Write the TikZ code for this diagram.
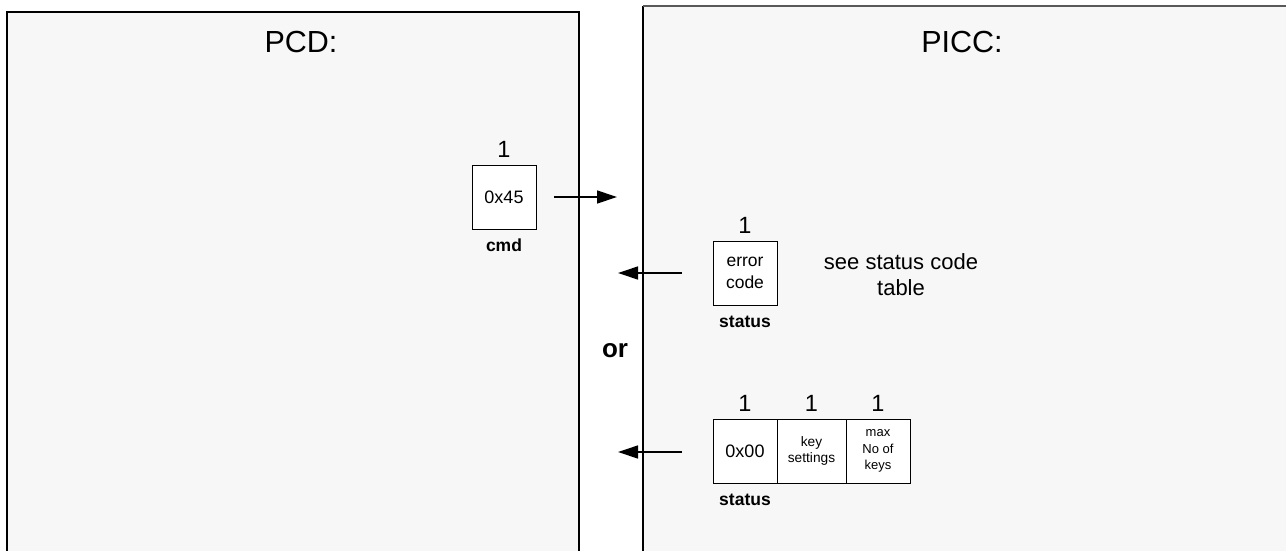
\documentclass[tikz,border=0pt]{standalone}
\usepackage{fontspec}
\setmainfont{Liberation Sans}
\usetikzlibrary{arrows.meta}
\begin{document}
\begin{tikzpicture}[x=1pt,y=-1pt,
  panel/.style={fill=black!3,draw=none},
  border/.style={line width=1.3pt,draw=black},
  cell/.style={draw=black,line width=0.8pt,fill=white,minimum height=64pt,inner sep=0pt,align=center},
  num/.style={font=\fontsize{23.5}{23.5}\selectfont,anchor=base,inner sep=0pt},
  lbl/.style={font=\fontsize{17.5}{17.5}\selectfont\bfseries,anchor=base,inner sep=0pt},
  msg/.style={-{Triangle[length=20pt,width=13pt]},line width=1.3pt},
  title/.style={font=\fontsize{30.5}{30.5}\selectfont,anchor=base,inner sep=0pt}]
\useasboundingbox (0,0) rectangle (1286,551);
\fill[white] (0,0) rectangle (1286,551);
% panels
\fill[panel] (7,12) rectangle (579,551);
\fill[panel] (643,6) rectangle (1286,551);
\draw[border] (7,551) -- (7,12) -- (579,12) -- (579,551);
\draw[border] (643,551) -- (643,6);
\draw[line width=1.6pt,draw=black!65] (643,6) -- (1286,6);
\node[title] (pcd) at (301,53) {PCD:};
\node[title] (picc) at (962,53) {PICC:};
% command
\node[cell,minimum width=64pt,font=\fontsize{18}{18}\selectfont] (cmd) at (504,197) {0x45};
\node[num] (cmdn) at (504,157) {1};
\node[lbl] (cmdl) at (504,251) {cmd};
\coordinate (a1s) at (554,197);
\coordinate (a1e) at (617,197);
\draw[msg] (a1s) -- (a1e);
% error response
\node[cell,minimum width=64pt,font=\fontsize{17.5}{22}\selectfont] (err) at (745,273) {error\\code};
\node[num] (errn) at (745,233) {1};
\node[lbl] (errl) at (745,327) {status};
\node[font=\fontsize{22}{26}\selectfont,align=center] (see) at (901,275) {see status code\\table};
\coordinate (a2s) at (682,273);
\coordinate (a2e) at (618,273);
\draw[msg] (a2s) -- (a2e);
\node[font=\fontsize{26}{26}\selectfont\bfseries,anchor=base,inner sep=0pt] (or) at (615,357) {or};
% ok response
\node[cell,minimum width=64pt,font=\fontsize{18}{18}\selectfont] (c1) at (745,451) {0x00};
\node[cell,minimum width=69pt,font=\fontsize{13.7}{16}\selectfont] (c2) at (811.5,451) {key\\settings};
\node[cell,minimum width=64pt,font=\fontsize{13}{16.5}\selectfont] (c3) at (878,451) {max\\No of\\keys};
\node[num] (n1) at (745,411) {1};
\node[num] (n2) at (811.5,411) {1};
\node[num] (n3) at (878,411) {1};
\node[lbl] (okl) at (745,505) {status};
\coordinate (a3s) at (682,452);
\coordinate (a3e) at (618,452);
\draw[msg] (a3s) -- (a3e);
\end{tikzpicture}
\end{document}
